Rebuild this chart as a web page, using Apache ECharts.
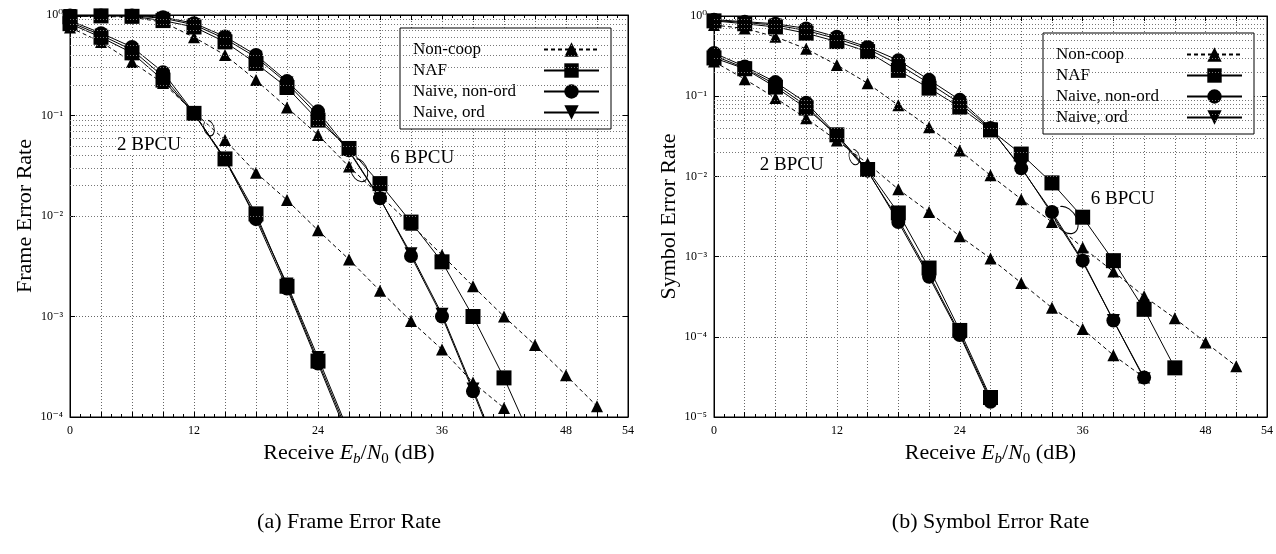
<!DOCTYPE html>
<html><head><meta charset="utf-8">
<script src="https://cdn.jsdelivr.net/npm/echarts@6/dist/echarts.min.js"></script>
<style>html,body{margin:0;padding:0;background:#fff}#c{width:1276px;height:554px}</style>
</head><body><div id="c"></div>
<script>
// ---------- data ----------
const snr = [0,3,6,9,12,15,18,21,24,27,30,33,36,39,42,45,48,51];
const seriesNames = ['Non-coop','NAF','Naive, non-ord','Naive, ord'];

// (a) Frame Error Rate, 2 BPCU
const fer2NonCoop = [0.75,0.54,0.34,0.21,0.108,0.057,0.027,0.0144,0.0072,0.0037,0.0018,0.0009,0.00047,0.00022,0.000123];
const fer2NAF     = [0.82,0.60,0.42,0.225,0.105,0.037,0.0105,0.0020,0.00036,0.000065];
const fer2NonOrd  = [0.88,0.66,0.48,0.27,0.106,0.037,0.0093,0.0019,0.00034,0.00006];
const fer2Ord     = [0.85,0.63,0.45,0.245,0.104,0.036,0.0098,0.0021,0.00039,0.00007];
// (a) Frame Error Rate, 6 BPCU
const fer6NonCoop = [0.98,0.97,0.95,0.85,0.60,0.40,0.225,0.12,0.064,0.031,0.016,0.0082,0.0041,0.0020,0.0010,0.00052,0.00026,0.000128];
const fer6NAF     = [0.96,0.98,0.97,0.88,0.76,0.54,0.33,0.19,0.09,0.047,0.021,0.0087,0.0035,0.0010,0.000245,0.00005];
const fer6NonOrd  = [0.99,0.99,0.99,0.95,0.83,0.61,0.40,0.22,0.11,0.045,0.015,0.0040,0.0010,0.00018,0.00003];
const fer6Ord     = [0.99,0.99,0.98,0.93,0.80,0.58,0.38,0.21,0.10,0.044,0.0148,0.0042,0.00105,0.00019,0.000032];

// (b) Symbol Error Rate, 2 BPCU
const ser2NonCoop = [0.27,0.163,0.095,0.053,0.028,0.0145,0.0069,0.0036,0.0018,0.00095,0.00047,0.00023,0.000125,0.000059,0.000031];
const ser2NAF     = [0.30,0.22,0.13,0.071,0.033,0.0122,0.0035,0.00072,0.00012,0.0000175];
const ser2NonOrd  = [0.345,0.235,0.15,0.083,0.033,0.0118,0.0027,0.00056,0.000105,0.0000155];
const ser2Ord     = [0.32,0.225,0.14,0.076,0.0315,0.0115,0.0029,0.0006,0.00011,0.0000165];
// (b) Symbol Error Rate, 6 BPCU
const ser6NonCoop = [0.77,0.70,0.55,0.39,0.245,0.145,0.077,0.041,0.021,0.0103,0.0052,0.0027,0.0013,0.00065,0.00032,0.00017,0.000085,0.000043];
const ser6NAF     = [0.87,0.80,0.73,0.61,0.48,0.36,0.21,0.126,0.073,0.038,0.019,0.0083,0.0031,0.00089,0.00022,0.000041];
const ser6NonOrd  = [0.90,0.85,0.80,0.70,0.55,0.41,0.28,0.16,0.09,0.040,0.0126,0.0036,0.00089,0.00016,0.000031];
const ser6Ord     = [0.88,0.83,0.77,0.66,0.52,0.39,0.25,0.145,0.082,0.039,0.013,0.0034,0.00086,0.00016,0.00003];

const xTickLabels = ['0','12','24','36','48','54'];
const supDigits = {'-':'⁻','0':'⁰','1':'¹','2':'²','3':'³','4':'⁴','5':'⁵'};
const minorMultipliers = [2,3,4,5,6,7,8,9];

const captions = ['(a) Frame Error Rate','(b) Symbol Error Rate'];
const yTitles = ['Frame Error Rate','Symbol Error Rate'];
const groupLabels = ['2 BPCU','6 BPCU'];

// ---------- build ----------
const FONT = "'Liberation Serif','DejaVu Serif',serif";
const styleByName = {
  'Non-coop':       {symbol:'triangle', size:12, rotate:0,   dash:[4,3]},
  'NAF':            {symbol:'rect',     size:15, rotate:0,   dash:'solid'},
  'Naive, non-ord': {symbol:'circle',   size:14, rotate:0,   dash:'solid'},
  'Naive, ord':     {symbol:'triangle', size:13, rotate:180, dash:'solid'}
};
function mkSeries(name, vals, gi){
  const s = styleByName[name];
  return {
    name, type:'line', xAxisIndex:gi, yAxisIndex:gi,
    data: vals.map((v,i)=>[snr[i], v]),
    symbol:s.symbol, symbolSize:s.size, symbolRotate:s.rotate, showAllSymbol:true,
    itemStyle:{color:'#000'}, lineStyle:{color:'#000', width:1, type:s.dash},
    animation:false, z:3
  };
}
function minorLines(minExp, gi){
  const arr = [];
  for (let e = minExp; e < 0; e++) minorMultipliers.forEach(m => arr.push({yAxis: m*Math.pow(10,e)}));
  return {
    type:'line', xAxisIndex:gi, yAxisIndex:gi, data:[], silent:true, animation:false, z:1,
    markLine:{silent:true, symbol:['none','none'], label:{show:false}, animation:false,
      lineStyle:{color:'#777', width:1, type:[1,2]}, data:arr}
  };
}
const supLabel = v => { const e = Math.round(Math.log10(v)); return '10' + String(e).split('').map(c=>supDigits[c]).join(''); };

const xName = '{n|Receive }{i|E}{sb|b}{n|/}{i|N}{s0|0}{n| (dB)}';
const xNameStyle = {color:'#000', fontFamily:FONT, fontSize:22, rich:{
  n:{fontFamily:FONT, fontSize:22, color:'#000', verticalAlign:'middle'},
  i:{fontFamily:FONT, fontSize:22, fontStyle:'italic', color:'#000', verticalAlign:'middle'},
  sb:{fontFamily:FONT, fontSize:15, fontStyle:'italic', color:'#000', padding:[12,0,0,0], verticalAlign:'middle'},
  s0:{fontFamily:FONT, fontSize:15, color:'#000', padding:[12,0,0,0], verticalAlign:'middle'}
}};

function xAxisBottom(gi){
  return {gridIndex:gi, type:'value', min:0, max:54, interval:3, position:'bottom',
    axisLine:{show:true, onZero:false, lineStyle:{color:'#000', width:1}},
    axisTick:{show:true, inside:true, length:5, lineStyle:{color:'#000'}},
    minorTick:{show:true, splitNumber:3, length:3, lineStyle:{color:'#000'}},
    splitLine:{show:true, lineStyle:{color:'#666', width:1, type:[1,2]}},
    axisLabel:{color:'#000', fontFamily:FONT, fontSize:12, margin:8,
      formatter: v => xTickLabels.includes(String(v)) ? String(v) : ''},
    name:xName, nameLocation:'middle', nameGap:20, nameTextStyle:xNameStyle};
}
function xAxisTop(gi){
  return {gridIndex:gi, type:'value', min:0, max:54, interval:3, position:'top',
    axisLine:{show:true, onZero:false, lineStyle:{color:'#000'}},
    axisTick:{show:true, inside:true, length:5, lineStyle:{color:'#000'}},
    minorTick:{show:true, splitNumber:3, length:3, lineStyle:{color:'#000'}},
    splitLine:{show:false}, axisLabel:{show:false}};
}
function yAxisLeft(gi, minV){
  return {gridIndex:gi, type:'log', logBase:10, min:minV, max:1, position:'left',
    axisLine:{show:true, onZero:false, lineStyle:{color:'#000'}},
    axisTick:{show:true, inside:true, length:5, lineStyle:{color:'#000'}},
    splitLine:{show:true, lineStyle:{color:'#666', width:1, type:[1,2]}},
    axisLabel:{color:'#000', fontFamily:FONT, fontSize:12, margin:7, formatter:supLabel},
    name:yTitles[gi], nameLocation:'middle', nameGap:34,
    nameTextStyle:{color:'#000', fontFamily:FONT, fontSize:22}};
}
function yAxisRight(gi, minV){
  return {gridIndex:gi, type:'log', logBase:10, min:minV, max:1, position:'right',
    axisLine:{show:true, onZero:false, lineStyle:{color:'#000'}},
    axisTick:{show:true, inside:true, length:5, lineStyle:{color:'#000'}},
    splitLine:{show:false}, axisLabel:{show:false}};
}
function legendFor(gi, left, top){
  return {show:true, orient:'vertical', left, top, data:seriesNames, align:'right',
    itemWidth:55, itemHeight:18, itemGap:4, padding:[13,11,8,13],
    backgroundColor:'#fff', borderColor:'#000', borderWidth:1, borderRadius:0,
    selectedMode:false, inactiveColor:'#000',
    formatter: name => '{t|' + name + '}',
    textStyle:{color:'#000', fontFamily:FONT, fontSize:17,
      rich:{t:{width:126, align:'left', color:'#000', fontFamily:FONT, fontSize:17}}}};
}

const series = [
  minorLines(-4, 0), minorLines(-5, 1),
  mkSeries('Non-coop', fer2NonCoop, 0), mkSeries('Naive, ord', fer2Ord, 0), mkSeries('Naive, non-ord', fer2NonOrd, 0), mkSeries('NAF', fer2NAF, 0),
  mkSeries('Non-coop', fer6NonCoop, 0), mkSeries('Naive, ord', fer6Ord, 0), mkSeries('Naive, non-ord', fer6NonOrd, 0), mkSeries('NAF', fer6NAF, 0),
  mkSeries('Non-coop', ser2NonCoop, 1), mkSeries('Naive, ord', ser2Ord, 1), mkSeries('Naive, non-ord', ser2NonOrd, 1), mkSeries('NAF', ser2NAF, 1),
  mkSeries('Non-coop', ser6NonCoop, 1), mkSeries('Naive, ord', ser6Ord, 1), mkSeries('Naive, non-ord', ser6NonOrd, 1), mkSeries('NAF', ser6NAF, 1)
];

const chart = echarts.init(document.getElementById('c'), null, {renderer:'canvas'});
chart.setOption({
  backgroundColor:'#fff',
  animation:false,
  grid:[
    {left:70, top:15, width:558, height:402, show:true, borderColor:'#000', borderWidth:1, backgroundColor:'transparent'},
    {left:714, top:16, width:556, height:401, show:true, borderColor:'#000', borderWidth:1, backgroundColor:'transparent'}
  ],
  xAxis:[xAxisBottom(0), xAxisBottom(1), xAxisTop(0), xAxisTop(1)],
  yAxis:[yAxisLeft(0,1e-4), yAxisLeft(1,1e-5), yAxisRight(0,1e-4), yAxisRight(1,1e-5)],
  legend:[legendFor(0, 400, 28), legendFor(1, 1043, 33)],
  series
});

// ---------- annotations placed in data coordinates ----------
function px(gi, x, y){ return chart.convertToPixel({xAxisIndex:gi, yAxisIndex:gi}, [x, y]); }
const annot = [
  {gi:0, label:groupLabels[0], tx:4.55, ty:0.0508, ex:13.45, ey:0.075, rx:5, ry:8, rot:0.3},
  {gi:0, label:groupLabels[1], tx:31.0, ty:0.0376, ex:27.97, ey:0.0285, rx:8, ry:12, rot:0.4},
  {gi:1, label:groupLabels[0], tx:4.47, ty:0.0139, ex:13.7, ey:0.01746, rx:5, ry:8, rot:0.3},
  {gi:1, label:groupLabels[1], tx:36.8, ty:0.00522, ex:34.4, ey:0.00286, rx:10, ry:15, rot:0.6}
];
const g = [];
annot.forEach(a => {
  const t = px(a.gi, a.tx, a.ty), e = px(a.gi, a.ex, a.ey);
  g.push({type:'text', x:t[0], y:t[1], z:10, style:{text:a.label, fill:'#000', font:'19px ' + FONT, align:'left', verticalAlign:'middle', backgroundColor:'#fff'}});
  g.push({type:'arc', x:e[0], y:e[1], rotation:a.rot, scaleX:a.rx/a.ry, z:10,
    shape:{cx:0, cy:0, r:a.ry, startAngle:-1.3, endAngle:4.2},
    style:{stroke:'#000', lineWidth:1.2, fill:null}});
});
const c0 = chart.convertToPixel({xAxisIndex:0}, 27), c1 = chart.convertToPixel({xAxisIndex:1}, 27);
g.push({type:'text', x:c0, y:522, style:{text:captions[0], fill:'#000', font:'22px ' + FONT, align:'center', verticalAlign:'middle'}});
g.push({type:'text', x:c1, y:522, style:{text:captions[1], fill:'#000', font:'22px ' + FONT, align:'center', verticalAlign:'middle'}});
chart.setOption({graphic:g});
</script>
</body></html>
